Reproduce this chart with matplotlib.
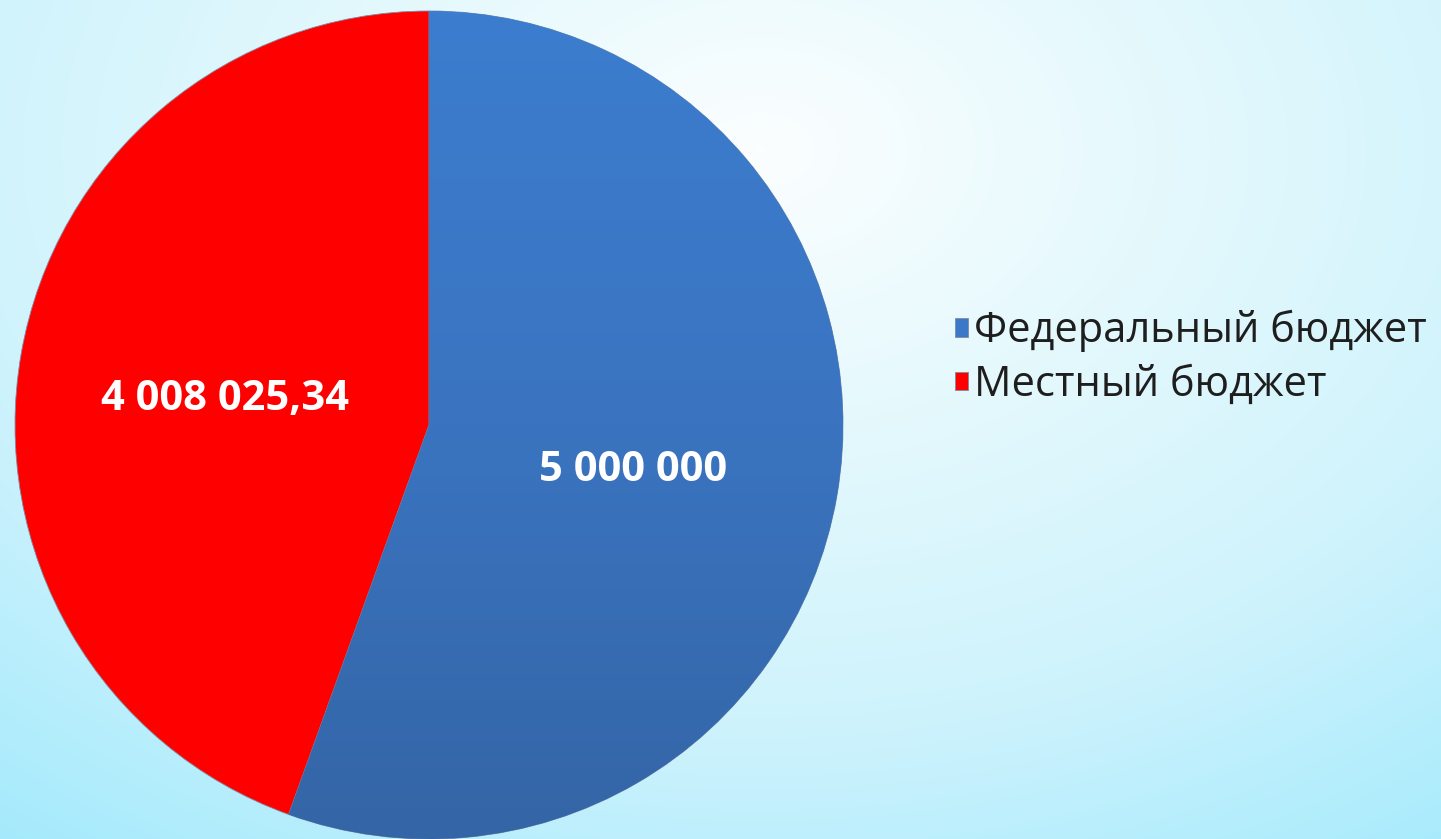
import numpy as np
import matplotlib.pyplot as plt
from matplotlib.colors import LinearSegmentedColormap

labels = ["Федеральный бюджет", "Местный бюджет"]
values = [5000000, 4008025.34]
value_text = ["5 000 000", "4 008 025,34"]
colors = ["#3b78c8", "#ff0000"]

W, H = 1441, 839
fig = plt.figure(figsize=(W / 100, H / 100), dpi=100)

# background: soft elliptical gradient, pale near top-centre, cyan towards the bottom
bg = fig.add_axes([0, 0, 1, 1])
yy, xx = np.mgrid[0:H, 0:W]
d = np.hypot((xx - 760) / 1000, (yy - 150) / 700)
d = np.clip(d / 1.25, 0, 1)
bg_cmap = LinearSegmentedColormap.from_list(
    "bg", [(0, "#fbfeff"), (0.3, "#e6f9fd"), (0.65, "#cff3fc"), (1, "#a4eafc")])
bg.imshow(d, cmap=bg_cmap, vmin=0, vmax=1, aspect="auto", extent=[0, W, H, 0])
bg.set_axis_off()

# pie, center (429, 425) px, radius 414 px
cx, cy, r = 429, 425, 414
ax = fig.add_axes([(cx - r) / W, (H - cy - r) / H, 2 * r / W, 2 * r / H])
wedges, _ = ax.pie(values, colors=colors, startangle=90, counterclock=False,
                   wedgeprops=dict(edgecolor="#7d8ca4", linewidth=0.6))
ax.set_xlim(-1, 1)
ax.set_ylim(-1, 1)
ax.set_aspect("equal")

# blue wedge gets a vertical gradient
grad = np.linspace(0, 1, 256).reshape(-1, 1)
blue_cmap = LinearSegmentedColormap.from_list("bl", ["#3c7dcf", "#3a74c0", "#3465a6"])
im = ax.imshow(grad, cmap=blue_cmap, extent=[-1, 1, -1, 1], origin="upper",
               aspect="auto", zorder=wedges[0].get_zorder() + 0.1)
im.set_clip_path(wedges[0])

for w, txt in zip(wedges, value_text):
    ang = np.deg2rad((w.theta1 + w.theta2) / 2)
    ax.text(0.5 * np.cos(ang), 0.5 * np.sin(ang) - 0.025, txt, ha="center", va="center",
            color="white", fontsize=30, fontweight="bold", family="Open Sans", zorder=5)

leg = fig.legend(wedges, labels, loc="center left", bbox_to_anchor=(934 / W, 1 - 358 / H),
                 bbox_transform=fig.transFigure, frameon=False, borderpad=0,
                 prop=dict(family="Open Sans", size=30),
                 handlelength=0.32, handleheight=0.32, handletextpad=0.15, labelspacing=0.28,
                 labelcolor="#1e1e1e")

fig.savefig("out.png", dpi=100)
